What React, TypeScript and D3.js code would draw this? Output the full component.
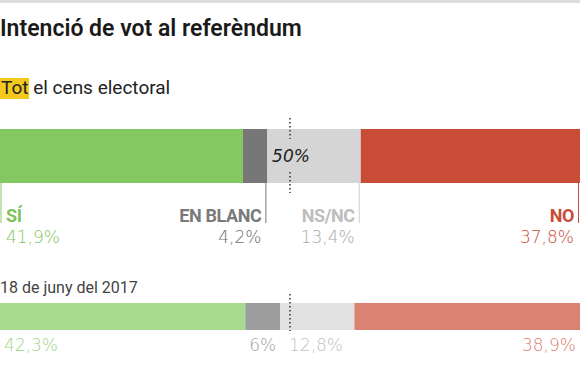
import React from "react";
import * as d3 from "d3";

const title = "Intenció de vot al referèndum";
const subtitleHighlight = "Tot";
const subtitleRest = " el cens electoral";
const pastLabel = "18 de juny del 2017";

const categories = ["SÍ", "EN BLANC", "NS/NC", "NO"];
const currentValues = [41.9, 4.2, 13.4, 37.8];
const pastValues = [42.3, 6, 12.8, 38.9];
const currentText = ["41,9%", "4,2%", "13,4%", "37,8%"];
const pastText = ["42,3%", "6%", "12,8%", "38,9%"];
const midLabel = "50%";

const currentColors = ["#84c862", "#777777", "#d5d5d5", "#c94c37"];
const pastColors = ["#a8da8f", "#9d9d9d", "#e1e1e1", "#da8374"];
const nameColors = ["#7cc45a", "#7a7a7a", "#bdbdbd", "#c94c37"];
const currentTextColors = ["#80c75c", "#6f6f6f", "#a8a8a8", "#c94c37"];
const pastTextColors = ["#a0d585", "#a3a3a3", "#c2c2c2", "#dc7f6e"];

const W = 580;
const H = 380;
const FONT = "Roboto, 'Noto Sans', sans-serif";
const NUMFONT = "'DejaVu Sans', sans-serif";

// Segments: left stack for first two, last anchored right, middle fills gap
function segments(values: number[], x: d3.ScaleLinear<number, number>) {
  const s0 = x(0);
  const s1 = x(values[0]);
  const s2 = x(values[0] + values[1]);
  const s3 = x(100 - values[3]);
  const s4 = x(100);
  return [
    [s0, s1],
    [s1, s2],
    [s2, s3],
    [s3, s4],
  ];
}

export default function App() {
  const x = d3.scaleLinear().domain([0, 100]).range([0, W]);
  const bar1 = { y: 129, h: 54 };
  const bar2 = { y: 303, h: 27 };
  const seg1 = segments(currentValues, x);
  const seg2 = segments(pastValues, x);
  const mid = x(50);

  return (
    <svg
      width={W}
      height={H}
      style={{ position: "absolute", left: 0, top: 0, background: "#fff" }}
      fontFamily={FONT}
    >
      <rect x={0} y={0} width={W} height={3} fill="#dddddd" />
      <text x={0} y={36} fontSize={23} fontWeight={600} fill="#1a1a1a">
        {title}
      </text>
      <rect x={0} y={78} width={29} height={21} fill="#f3c81f" />
      <text x={1} y={94} fontSize={19} fill="#222">
        {subtitleHighlight}
        <tspan>{subtitleRest}</tspan>
      </text>

      {/* Current bar */}
      {seg1.map(([a, b], i) => (
        <rect key={"c" + i} x={a} y={bar1.y} width={b - a} height={bar1.h} fill={currentColors[i]} />
      ))}
      {/* tick lines */}
      {seg1.map(([a, b], i) => {
        const lx = i === 0 ? a + 1 : b - 1.5;
        return (
          <line key={"t" + i} x1={lx} x2={lx} y1={bar1.y + bar1.h} y2={223} stroke={i === 2 ? "#cfcfcf" : currentColors[i]} strokeWidth={1} />
        );
      })}
      {seg1.map(([a, b], i) => {
        const left = i === 0;
        const tx = left ? a + 6 : b - 6;
        return (
          <g key={"l" + i}>
            <text x={tx} y={222} textAnchor={left ? "start" : "end"} fontSize={18} fontWeight={700} fill={nameColors[i]} letterSpacing={-0.4}>
              {categories[i]}
            </text>
            <text x={tx} y={243} textAnchor={left ? "start" : "end"} fontSize={17} fontWeight={300} fontFamily={NUMFONT} fill={currentTextColors[i]}>
              {currentText[i]}
            </text>
          </g>
        );
      })}
      {/* 50% marker */}
      <line x1={mid} x2={mid} y1={118} y2={139} stroke="#333" strokeWidth={1.5} strokeDasharray="1.5,2.5" />
      <line x1={mid} x2={mid} y1={172} y2={193} stroke="#333" strokeWidth={1.5} strokeDasharray="1.5,2.5" />
      <text x={mid + 1} y={162} textAnchor="middle" fontSize={17} fontStyle="italic" fontFamily={NUMFONT} fill="#222">
        {midLabel}
      </text>

      {/* Past bar */}
      <text x={0} y={293} fontSize={16} fill="#444">
        {pastLabel}
      </text>
      {seg2.map(([a, b], i) => (
        <rect key={"p" + i} x={a} y={bar2.y} width={b - a} height={bar2.h} fill={pastColors[i]} />
      ))}
      <line x1={mid} x2={mid} y1={294} y2={331} stroke="#333" strokeWidth={1.5} strokeDasharray="1.5,2.5" />
      {seg2.map(([a, b], i) => {
        let tx = 4;
        let anchor: "start" | "end" = "start";
        if (i === 1) { tx = b - 4; anchor = "end"; }
        if (i === 2) { tx = mid - 1; anchor = "start"; }
        if (i === 3) { tx = b - 4; anchor = "end"; }
        return (
          <text key={"pl" + i} x={tx} y={351} textAnchor={anchor} fontSize={17} fontWeight={300} fontFamily={NUMFONT} fill={pastTextColors[i]}>
            {pastText[i]}
          </text>
        );
      })}
    </svg>
  );
}
